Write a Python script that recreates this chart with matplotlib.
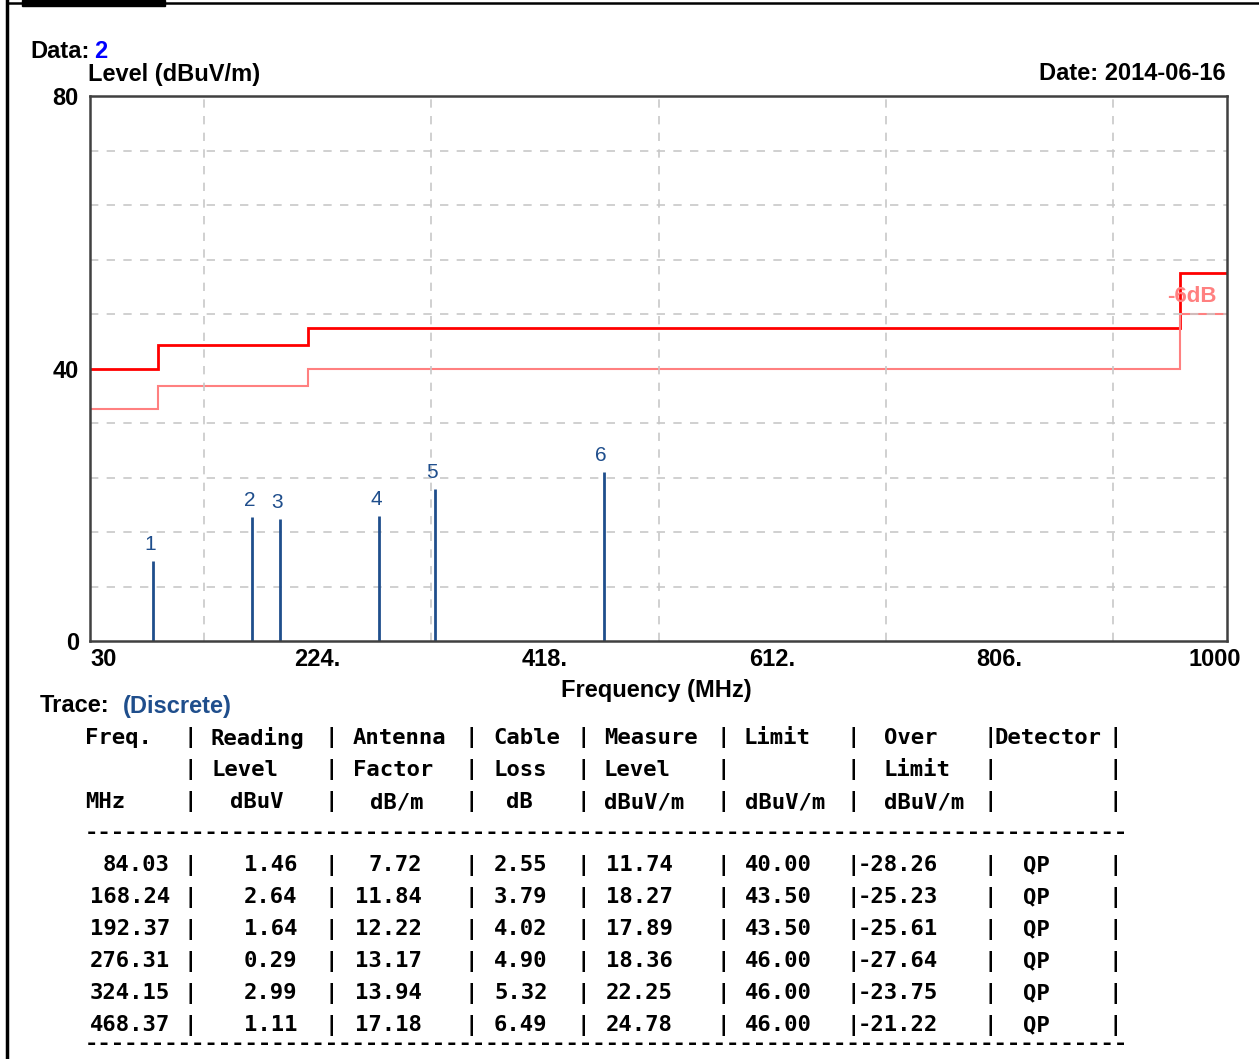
import numpy as np
import matplotlib
matplotlib.use('Agg')
import matplotlib.pyplot as plt
from matplotlib.lines import Line2D
from matplotlib.patches import Rectangle

# Measured points (discrete QP results)
freqs = [84.03, 168.24, 192.37, 276.31, 324.15, 468.37]
reading = [1.46, 2.64, 1.64, 0.29, 2.99, 1.11]
antenna = [7.72, 11.84, 12.22, 13.17, 13.94, 17.18]
cable = [2.55, 3.79, 4.02, 4.90, 5.32, 6.49]
measure = [11.74, 18.27, 17.89, 18.36, 22.25, 24.78]
limit = [40.00, 43.50, 43.50, 46.00, 46.00, 46.00]
over = [-28.26, -25.23, -25.61, -27.64, -23.75, -21.22]
detector = ['QP', 'QP', 'QP', 'QP', 'QP', 'QP']

# Limit lines (step edges in MHz)
limit_edges = [30, 88, 216, 960, 1000]
limit_levels = [40, 43.5, 46, 54]
margin_levels = [34, 37.5, 40, 48]

xticks = [30, 224, 418, 612, 806, 1000]
xticklabels = ['30', '224.', '418.', '612.', '806.', '1000']
yticks = [0, 40, 80]

W, H = 1259, 1059
fig = plt.figure(figsize=(W / 100, H / 100), dpi=100)
fig.patch.set_facecolor('white')

def fx(x):
    return x / W

def fy(y):
    return 1 - y / H

sans = 'Liberation Sans'
mono = 'DejaVu Sans Mono'
blue = '#1f4e8c'

# plot area
ax = fig.add_axes([fx(90), fy(641), (1227 - 90) / W, (641 - 96) / H])
ax.set_xlim(30, 1000)
ax.set_ylim(0, 80)

ax.set_xticks(xticks)
ax.set_xticklabels([])
ax.set_yticks(yticks)
ax.set_yticklabels([str(v) for v in yticks], fontsize=17, fontweight='bold', fontfamily=sans)
ax.set_xticks(np.arange(30, 1001, 97), minor=True)
ax.set_yticks(np.arange(0, 81, 8), minor=True)
ax.tick_params(which='both', length=0)
ax.tick_params(axis='y', pad=8)
ax.grid(which='minor', color='#c8c8c8', linestyle=(0, (5, 5)), linewidth=1.2)
for s in ax.spines.values():
    s.set_color('#404040')
    s.set_linewidth(1.8)

# x tick labels: first flush left, last nudged inward
for i, (x, lab) in enumerate(zip(xticks, xticklabels)):
    ha, dx = 'center', 0
    if i == 0:
        ha = 'left'
    elif i == len(xticks) - 1:
        dx = -9
    ax.annotate(lab, (x, 0), xycoords=ax.get_xaxis_transform(), xytext=(dx, -13),
                textcoords='offset points', ha=ha, va='center', fontsize=17,
                fontweight='bold', fontfamily=sans)

ax.stairs(limit_levels, limit_edges, color='#ff0000', linewidth=2, baseline=None)
ax.stairs(margin_levels, limit_edges, color='#ff8080', linewidth=1.5, baseline=None)

ax.vlines(freqs, 0, measure, color=blue, linewidth=2)
for i, (f, m) in enumerate(zip(freqs, measure)):
    ax.annotate(str(i + 1), (f, m), xytext=(-2, 5), textcoords='offset points',
                ha='center', va='bottom', color=blue, fontsize=15, fontfamily=sans)

# header texts
fig.text(fx(30), fy(52), 'Data:', fontsize=17, fontweight='bold', fontfamily=sans, va='center')
fig.text(fx(94), fy(52), '2', fontsize=17, fontweight='bold', fontfamily=sans, va='center', color='#0000ff')
fig.text(fx(88), fy(74), 'Level (dBuV/m)', fontsize=17, fontweight='bold', fontfamily=sans, va='center')
fig.text(fx(1226), fy(74), 'Date: 2014-06-16', fontsize=17, fontweight='bold', fontfamily=sans,
         va='center', ha='right')
fig.text(fx(1217), fy(297), '-6dB', fontsize=16, fontweight='bold', fontfamily=sans,
         va='center', ha='right', color='#ff8080')
fig.text(fx(656), fy(690), 'Frequency (MHz)', fontsize=17, fontweight='bold', fontfamily=sans,
         va='center', ha='center')
fig.text(fx(40), fy(706), 'Trace:', fontsize=17, fontweight='bold', fontfamily=sans, va='center')
fig.text(fx(123), fy(706), '(Discrete)', fontsize=17, fontweight='bold', fontfamily=sans,
         va='center', color=blue)

# table
def t(x, y, s, ha='left'):
    fig.text(fx(x), fy(y), s, fontsize=16, fontweight='bold', fontfamily=mono, va='center', ha=ha)

pipes = [190, 331, 471, 583, 723, 853, 990, 1115]
header_rows = [
    (738, [(85, 'Freq.'), (211, 'Reading'), (353, 'Antenna'), (493, 'Cable'),
           (604, 'Measure'), (743, 'Limit'), (884, 'Over'), (995, 'Detector')]),
    (770, [(211, 'Level'), (353, 'Factor'), (493, 'Loss'), (604, 'Level'), (884, 'Limit')]),
    (802, [(85, 'MHz'), (230, 'dBuV'), (370, 'dB/m'), (506, 'dB'), (604, 'dBuV/m'),
           (745, 'dBuV/m'), (884, 'dBuV/m')]),
]
for y, cells in header_rows:
    for x, s in cells:
        t(x, y, s)
    for p in pipes:
        t(p, y, '|', ha='center')

t(85, 833, '-' * 78)
row_y = [865, 897, 929, 961, 993, 1025]
for i, y in enumerate(row_y):
    t(170, y, f'{freqs[i]:.2f}', ha='right')
    t(297, y, f'{reading[i]:.2f}', ha='right')
    t(422, y, f'{antenna[i]:.2f}', ha='right')
    t(494, y, f'{cable[i]:.2f}')
    t(606, y, f'{measure[i]:.2f}')
    t(745, y, f'{limit[i]:.2f}')
    t(858, y, f'{over[i]:.2f}')
    t(1023, y, detector[i])
    for p in pipes:
        t(p, y, '|', ha='center')
t(85, 1044, '-' * 78)

# page frame
fig.add_artist(Line2D([fx(7), fx(7)], [0, 1], color='black', linewidth=2.5))
fig.add_artist(Line2D([fx(7), 1], [fy(3), fy(3)], color='black', linewidth=1.8))
fig.add_artist(Rectangle((fx(22), fy(6)), fx(143), 6 / H, color='black'))

fig.savefig('out.png', dpi=100)
